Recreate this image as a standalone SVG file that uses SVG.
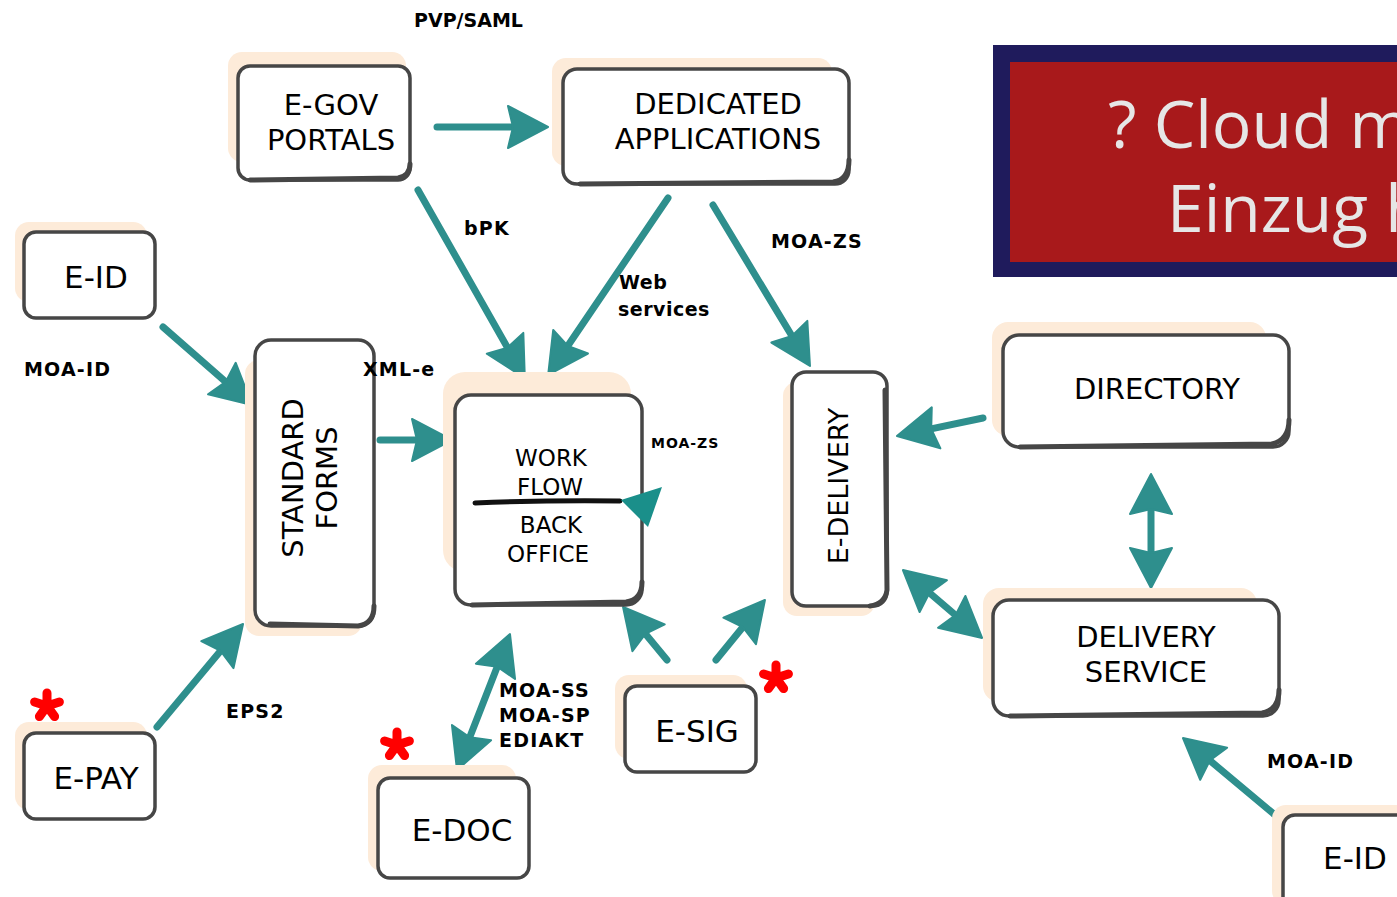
<svg xmlns="http://www.w3.org/2000/svg" width="1397" height="897" viewBox="0 0 1397 897">
<style>
.sh{fill:#fdebd9}
.bx{fill:#fff;stroke:#464646;stroke-width:3.5}
.ed{fill:none;stroke:#464646;stroke-width:5;stroke-linecap:round}
.nt{font-family:"DejaVu Sans",sans-serif;font-size:29px;fill:#000;text-anchor:middle}
.st{font-family:"DejaVu Sans",sans-serif;font-size:23px;fill:#000;text-anchor:middle}
.lb{font-family:"DejaVu Sans",sans-serif;font-weight:bold;font-size:19px;fill:#000;letter-spacing:1.2px}
.ar{stroke:#2e8f8d;stroke-width:7;fill:none;stroke-linecap:round}
.star{stroke:#f00;stroke-width:9;stroke-linecap:round;fill:none}
.title{font-family:"Open Sans",sans-serif;font-size:66px;fill:#e6e6e6}
</style>
<defs>
<marker id="ah" markerUnits="userSpaceOnUse" markerWidth="44" markerHeight="44" refX="10" refY="21" orient="auto-start-reverse" overflow="visible">
<path d="M0,0 L40,21 L0,42 L5,21 Z" fill="#2e8f8d" stroke="#2e8f8d" stroke-width="2" stroke-linejoin="round"/>
</marker>
</defs>
<rect width="1397" height="897" fill="#fff"/>

<g id="banner">
<rect x="993" y="45" width="420" height="232" fill="#1f1b5c"/>
<rect x="1010" y="62" width="400" height="200" fill="#a8191b"/>
<text class="title" x="1108" y="148">? Cloud m</text>
<text class="title" x="1167" y="232">Einzug h</text>
</g>

<g id="connectors">
<line class="ar" x1="437" y1="127" x2="518" y2="127" marker-end="url(#ah)"/>
<line class="ar" x1="418" y1="190" x2="510" y2="352" marker-end="url(#ah)"/>
<line class="ar" x1="668" y1="198" x2="565" y2="350" marker-end="url(#ah)"/>
<line class="ar" x1="713" y1="205" x2="794.5" y2="340.3" marker-end="url(#ah)"/>
<line class="ar" x1="163" y1="327" x2="229.4" y2="385.2" marker-end="url(#ah)"/>
<line class="ar" x1="380" y1="440" x2="422" y2="440" marker-end="url(#ah)"/>
<line class="ar" x1="157" y1="727" x2="223.8" y2="647" marker-end="url(#ah)"/>
<line class="ar" x1="467.9" y1="742" x2="499.1" y2="662" marker-start="url(#ah)" marker-end="url(#ah)"/>
<line class="ar" x1="667" y1="660" x2="642.2" y2="630.1" marker-end="url(#ah)"/>
<line class="ar" x1="716" y1="660" x2="746" y2="623.2" marker-end="url(#ah)"/>
<line class="ar" x1="983" y1="418" x2="926.3" y2="429.9" marker-end="url(#ah)"/>
<line class="ar" x1="925.7" y1="589.6" x2="959.3" y2="618.4" marker-start="url(#ah)" marker-end="url(#ah)"/>
<line class="ar" x1="1151" y1="504" x2="1151" y2="558" marker-start="url(#ah)" marker-end="url(#ah)"/>
<line class="ar" x1="1275" y1="815" x2="1206" y2="757.3" marker-end="url(#ah)"/>
</g>

<g id="egov">
<rect class="sh" x="228" y="52" width="178" height="110" rx="14"/>
<rect class="bx" x="238" y="66" width="172" height="114" rx="12"/>
<path class="ed" d="M250,180 L398,178 Q410,176 410,164"/>
<text class="nt" x="331" y="115">E-GOV</text>
<text class="nt" x="331" y="150">PORTALS</text>
</g>
<g id="dedicated">
<rect class="sh" x="552" y="58" width="280" height="108" rx="14"/>
<rect class="bx" x="563" y="69" width="286" height="115" rx="14"/>
<path class="ed" d="M580,184 L833,182 Q849,180 849,160"/>
<text class="nt" x="718" y="114">DEDICATED</text>
<text class="nt" x="718" y="149">APPLICATIONS</text>
</g>
<g id="eid1">
<rect class="sh" x="15" y="222" width="132" height="80" rx="14"/>
<rect class="bx" x="24" y="232" width="131" height="86" rx="12"/>
<text class="nt" x="96" y="288" style="font-size:31px">E-ID</text>
</g>
<g id="forms">
<rect class="sh" x="245" y="360" width="117" height="276" rx="14"/>
<rect class="bx" x="255" y="340" width="119" height="286" rx="16"/>
<path class="ed" d="M270,624 L358,626 Q374,624 374,606"/>
<g transform="translate(310,478) rotate(-90)">
<text class="nt" x="0" y="-7">STANDARD</text>
<text class="nt" x="0" y="27">FORMS</text>
</g>
</g>
<g id="workflow">
<rect class="sh" x="443" y="372" width="188" height="200" rx="22"/>
<rect class="bx" x="455" y="395" width="187" height="210" rx="16"/>
<path class="ed" d="M472,605 L626,602 Q642,600 642,582"/>
<text class="st" x="551" y="466">WORK</text>
<text class="st" x="550" y="495">FLOW</text>
<path d="M475,503 Q550,500 620,501" stroke="#111" stroke-width="5" fill="none" stroke-linecap="round"/>
<polygon points="621,500 662,487 648,527" fill="#1a8f8a"/>
<text class="st" x="551" y="533">BACK</text>
<text class="st" x="548" y="562">OFFICE</text>
</g>
<g id="edelivery">
<rect class="sh" x="783" y="382" width="92" height="234" rx="14"/>
<rect class="bx" x="792" y="372" width="95" height="234" rx="14"/>
<path class="ed" d="M885,390 L887,590 Q885,604 870,606"/>
<text class="nt" transform="translate(838,486) rotate(-90)" x="0" y="10" style="font-size:27px">E-DELIVERY</text>
</g>
<g id="directory">
<rect class="sh" x="992" y="322" width="274" height="114" rx="16"/>
<rect class="bx" x="1003" y="335" width="286" height="112" rx="16"/>
<path class="ed" d="M1020,447 L1272,444 Q1289,440 1289,420"/>
<text class="nt" x="1157" y="399">DIRECTORY</text>
</g>
<g id="deliveryservice">
<rect class="sh" x="983" y="588" width="274" height="114" rx="16"/>
<rect class="bx" x="993" y="600" width="286" height="116" rx="16"/>
<path class="ed" d="M1010,716 L1262,713 Q1279,710 1279,690"/>
<text class="nt" x="1146" y="647">DELIVERY</text>
<text class="nt" x="1146" y="682">SERVICE</text>
</g>
<g id="epay">
<rect class="sh" x="15" y="722" width="132" height="88" rx="14"/>
<rect class="bx" x="24" y="733" width="131" height="86" rx="12"/>
<text class="nt" x="96" y="789" style="font-size:31px">E-PAY</text>
</g>
<g id="edoc">
<rect class="sh" x="368" y="765" width="148" height="106" rx="14"/>
<rect class="bx" x="378" y="778" width="151" height="100" rx="12"/>
<text class="nt" x="462" y="841" style="font-size:31px">E-DOC</text>
</g>
<g id="esig">
<rect class="sh" x="615" y="675" width="132" height="84" rx="14"/>
<rect class="bx" x="625" y="686" width="131" height="86" rx="12"/>
<text class="nt" x="697" y="742" style="font-size:31px">E-SIG</text>
</g>
<g id="eid2">
<rect class="sh" x="1272" y="805" width="140" height="100" rx="14"/>
<rect class="bx" x="1283" y="815" width="140" height="100" rx="12"/>
<text class="nt" x="1355" y="869" style="font-size:31px">E-ID</text>
</g>

<g id="labels">
<text class="lb" x="414" y="27" style="letter-spacing:0">PVP/SAML</text>
<text class="lb" x="464" y="235">bPK</text>
<text class="lb" x="771" y="248">MOA-ZS</text>
<text class="lb" x="619" y="289" style="letter-spacing:0.5px">Web</text>
<text class="lb" x="618" y="316" style="letter-spacing:0.5px">services</text>
<text class="lb" x="24" y="376">MOA-ID</text>
<text class="lb" x="363" y="376">XML-e</text>
<text class="lb" x="651" y="448" style="font-size:14px;letter-spacing:1px">MOA-ZS</text>
<text class="lb" x="226" y="718">EPS2</text>
<text class="lb" x="499" y="697">MOA-SS</text>
<text class="lb" x="499" y="722">MOA-SP</text>
<text class="lb" x="499" y="747">EDIAKT</text>
<text class="lb" x="1267" y="768">MOA-ID</text>
</g>

<g id="stars">
<path class="star" d="M47,706 v-13 M47,706 l12.4,-4 M47,706 l7.6,10.5 M47,706 l-7.6,10.5 M47,706 l-12.4,-4"/>
<path class="star" d="M397,745 v-13 M397,745 l12.4,-4 M397,745 l7.6,10.5 M397,745 l-7.6,10.5 M397,745 l-12.4,-4"/>
<path class="star" d="M776,678 v-13 M776,678 l12.4,-4 M776,678 l7.6,10.5 M776,678 l-7.6,10.5 M776,678 l-12.4,-4"/>
</g>
</svg>
